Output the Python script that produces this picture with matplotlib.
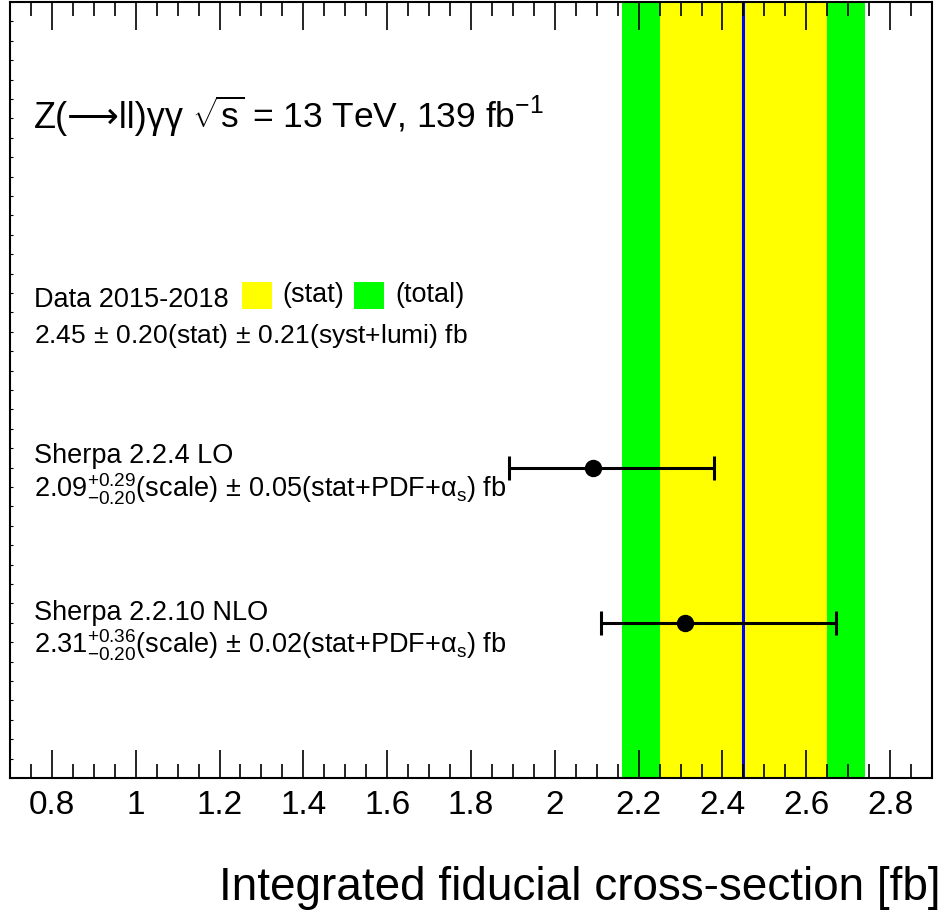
import matplotlib
matplotlib.use('Agg')
import matplotlib.pyplot as plt
from matplotlib.patches import Rectangle
from matplotlib.ticker import MultipleLocator, FuncFormatter

plt.rcParams['font.family'] = ['Liberation Sans', 'DejaVu Sans']
plt.rcParams['mathtext.fontset'] = 'custom'
plt.rcParams['mathtext.rm'] = 'Liberation Sans'
plt.rcParams['mathtext.it'] = 'Liberation Sans'
plt.rcParams['mathtext.sf'] = 'Liberation Sans'

# measured cross-section
data_value = 2.45
data_stat = 0.20
data_total = 0.29

# predictions
pred_names = ['Sherpa 2.2.4 LO', 'Sherpa 2.2.10 NLO']
pred_values = [2.09, 2.31]
pred_err_lo = [0.20, 0.20]
pred_err_hi = [0.29, 0.36]
pred_rows = [0.4, 0.2]
pred_labels = [
    r'$2.09^{+0.29}_{-0.20}$(scale)$\,\pm\,$0.05(stat+PDF+α$_{\mathrm{s}}$) fb',
    r'$2.31^{+0.36}_{-0.20}$(scale)$\,\pm\,$0.02(stat+PDF+α$_{\mathrm{s}}$) fb',
]

fig = plt.figure(figsize=(9.45, 9.14), dpi=100)
ax = fig.add_axes([10 / 945, 136 / 914, 922 / 945, 776 / 914])

# bands: total (green) and stat (yellow), central value (blue)
ax.axvspan(data_value - data_total, data_value + data_total, color='#00ff00', lw=0, zorder=0)
ax.axvspan(data_value - data_stat, data_value + data_stat, color='#ffff00', lw=0, zorder=0)
ax.axvline(data_value, color='#0000ff', lw=2.2, zorder=1)

ax.errorbar(pred_values, pred_rows, xerr=[pred_err_lo, pred_err_hi], fmt='o', color='black',
            ms=11.5, elinewidth=2.2, capsize=8.5, capthick=2.2, zorder=3)

ax.set_xlim(0.7, 2.9)
ax.set_ylim(0, 1)
ax.xaxis.set_major_locator(MultipleLocator(0.2))
ax.xaxis.set_minor_locator(MultipleLocator(0.05))
ax.xaxis.set_major_formatter(FuncFormatter(lambda v, p: f'{v:g}'))
ax.yaxis.set_major_locator(MultipleLocator(0.025))
ax.tick_params(axis='x', which='both', direction='in', top=True, bottom=True, width=1.2,
               labelsize=24, pad=9)
ax.tick_params(axis='x', which='major', length=20)
ax.tick_params(axis='x', which='minor', length=10)
ax.tick_params(axis='y', which='both', direction='in', left=True, right=False, length=2.5,
               width=0.8, labelleft=False)
for s in ax.spines.values():
    s.set_linewidth(1.5)
    s.set_zorder(5)

# text block
tx = 0.026
t1 = ax.text(tx, 0.838, 'Z(⟶ll)γγ', transform=ax.transAxes, fontsize=26, va='baseline')
fig.canvas.draw()
bb = t1.get_window_extent()
x2 = ax.transAxes.inverted().transform((bb.x1 + 8, 0))[0]
ax.text(x2, 0.838, r'$\sqrt{\mathrm{s}}$ = 13 TeV, 139 fb$^{\mathrm{-1}}$',
        transform=ax.transAxes, fontsize=25.5, va='baseline')

ax.text(tx, 0.607, 'Data 2015-2018', transform=ax.transAxes, fontsize=19.5, va='baseline')
ax.add_patch(Rectangle((0.2516, 0.6044), 0.0325, 0.0348, transform=ax.transAxes,
                       facecolor='#ffff00', edgecolor='none'))
ax.text(0.295, 0.6134, '(stat)', transform=ax.transAxes, fontsize=19.5, va='baseline')
ax.add_patch(Rectangle((0.3731, 0.6044), 0.0325, 0.0348, transform=ax.transAxes,
                       facecolor='#00ff00', edgecolor='none'))
ax.text(0.4176, 0.6134, '(total)', transform=ax.transAxes, fontsize=19.5, va='baseline')
ax.text(tx, 0.5606, r'2.45$\,\pm\,$0.20(stat)$\,\pm\,$0.21(syst+lumi) fb',
        transform=ax.transAxes, fontsize=19, va='baseline')

name_y = [0.406, 0.2036]
label_y = [0.361, 0.161]
for name, lab, ny, ly in zip(pred_names, pred_labels, name_y, label_y):
    ax.text(tx, ny, name, transform=ax.transAxes, fontsize=19.5, va='baseline')
    ax.text(tx, ly, lab, transform=ax.transAxes, fontsize=19.5, va='baseline')

fig.text(0.995, 14 / 914, 'Integrated fiducial cross-section [fb]', fontsize=33,
         ha='right', va='baseline')

fig.savefig('out.png', dpi=100)
